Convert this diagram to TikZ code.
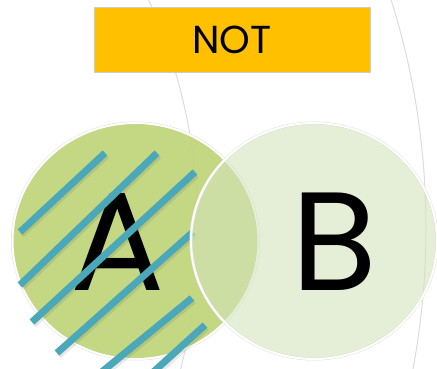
\documentclass[tikz,border=0pt]{standalone}
\usepackage{fontspec}
\newfontfamily\gothic{Poppins}
\usepackage{tikz}
\usetikzlibrary{shapes.geometric}
\definecolor{notgold}{HTML}{FFC000}
\definecolor{setgreen}{RGB}{192,213,122}
\definecolor{setpale}{RGB}{210,228,186}
\definecolor{hatch}{RGB}{75,168,184}
\definecolor{arcgrey}{RGB}{220,220,220}

\begin{document}
\begin{tikzpicture}[x=1pt,y=-1pt,
    setring/.style={ellipse,inner sep=0pt,minimum width=246pt,minimum height=236pt,preaction={draw=black!12,line width=3pt},draw=white,line width=2pt},
    hatchline/.style={line width=7pt,draw=hatch},
    hatchshadow/.style={line width=7pt,draw=black!70!olive,opacity=0.12},
    letter/.style={font=\gothic\fontsize{140}{140}\selectfont,anchor=base,inner sep=0pt}]
  \useasboundingbox (0,0) rectangle (437,368);
  % faint arcs behind
  \begin{scope}
    \clip (0,0) rectangle (437,368);
    \draw[arcgrey,line width=1pt] (-362,230) circle[radius=560pt];
    \draw[arcgrey,line width=1pt] (-334,228) circle[radius=760pt];
  \end{scope}
  \node[setring,fill=setgreen,fill opacity=0.93] (setA) at (135.5,241) {};
  \node[letter] (labA) at (118,290) {A};
  % stripes over A
  \foreach \x/\y/\u/\v in {20/232/105/153, 20/285/157/153, 32/322/195/172, 57/353/193/232, 98/375/192/298, 150/375/205/325} {
    \draw[hatchshadow] ([shift={(1.5,2.5)}]\x,\y) -- ([shift={(1.5,2.5)}]\u,\v);
    \draw[hatchline] (\x,\y) -- (\u,\v);
  }
  \node[setring,fill=setpale,fill opacity=0.575] (setB) at (314,241) {};
  \node[letter] (labB) at (334.5,290) {B};
  \node[fill=notgold,draw=black!20,line width=0.5pt,minimum width=276pt,minimum height=65pt,inner sep=0pt,
        font=\gothic\fontsize{39}{39}\selectfont] (optitle) at (232,39.5) {NOT};
\end{tikzpicture}
\end{document}
